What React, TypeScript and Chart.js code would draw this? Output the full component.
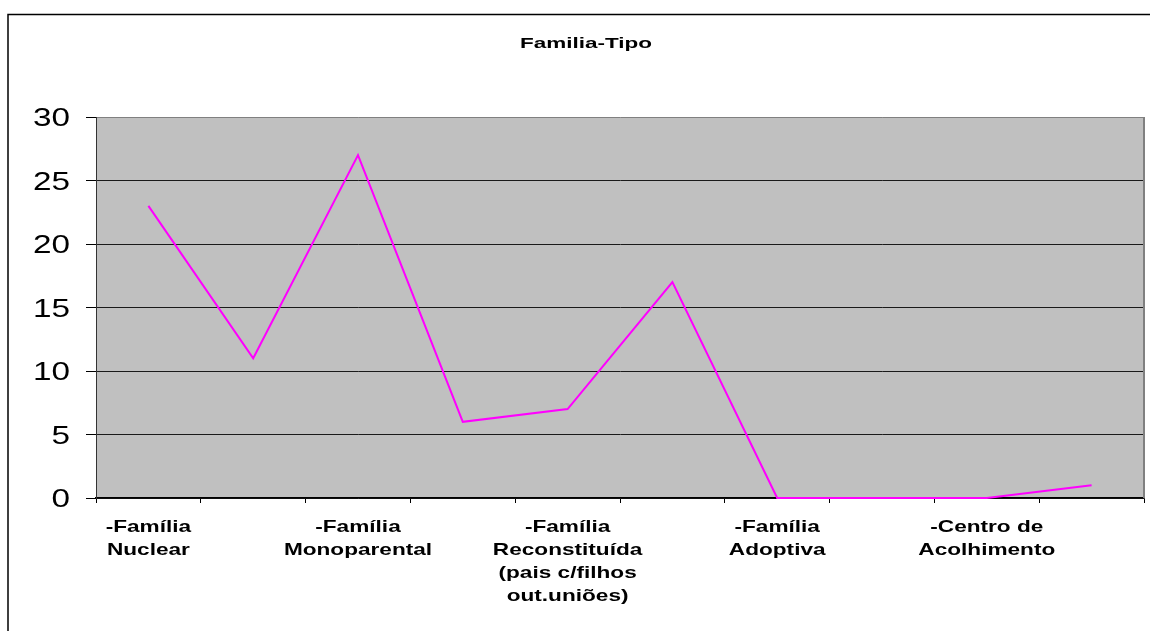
import { useEffect, useRef } from 'react';
import { Chart, registerables } from 'chart.js';

Chart.register(...registerables);

const chartTitle = 'Familia-Tipo';
const categoryLines: string[][] = [
  ['-Família', 'Nuclear'],
  [],
  ['-Família', 'Monoparental'],
  [],
  ['-Família', 'Reconstituída', '(pais c/filhos', 'out.uniões)'],
  [],
  ['-Família', 'Adoptiva'],
  [],
  ['-Centro de', 'Acolhimento'],
  [],
];
const categories = categoryLines.map((l) => l.join(' '));
const values = [23, 11, 27, 6, 7, 17, 0, 0, 0, 1];
const yMin = 0;
const yMax = 30;
const yStep = 5;

const FONT = '"Liberation Sans", Arial, sans-serif';
const TITLE_SIZE = 15;
const XTICK_SIZE = 17;
const YTICK_SIZE = 26;

// horizontal stretch of text, chosen by font size (reference text is widened)
const stretchFor = (font: string): [number, number] => {
  if (font.includes(TITLE_SIZE + 'px')) return [1.5, 0];
  if (font.includes(XTICK_SIZE + 'px')) return [1.33, 0];
  if (font.includes(YTICK_SIZE + 'px')) return [1.28, 2];
  return [1, 0];
};

const decorPlugin = {
  id: 'decor',
  beforeInit(chart: any) {
    const ctx = chart.ctx;
    const orig = ctx.fillText.bind(ctx);
    ctx.fillText = (text: string, x: number, y: number, mw?: number) => {
      const [sx, dy] = stretchFor(ctx.font);
      ctx.save();
      ctx.translate(x, y + dy);
      ctx.scale(sx, 1);
      if (mw === undefined) orig(text, 0, 0);
      else orig(text, 0, 0, mw / sx);
      ctx.restore();
    };
  },
  beforeDraw(chart: any) {
    const { ctx, chartArea } = chart;
    ctx.save();
    ctx.fillStyle = '#C0C0C0';
    ctx.fillRect(chartArea.left, chartArea.top, chartArea.right - chartArea.left, chartArea.bottom - chartArea.top);
    ctx.strokeStyle = '#000';
    ctx.lineWidth = 1.5;
    ctx.beginPath();
    ctx.moveTo(8, 640);
    ctx.lineTo(8, 14.5);
    ctx.lineTo(1160, 14.5);
    ctx.stroke();
    ctx.fillStyle = '#000';
    ctx.font = 'bold ' + TITLE_SIZE + 'px ' + FONT;
    ctx.textAlign = 'center';
    ctx.textBaseline = 'alphabetic';
    ctx.fillText(chartTitle, 586, 48);
    ctx.restore();
  },
  afterDatasetsDraw(chart: any) {
    const { ctx, chartArea } = chart;
    ctx.save();
    ctx.strokeStyle = '#808080';
    ctx.lineWidth = 2;
    ctx.beginPath();
    ctx.moveTo(chartArea.right, chartArea.top);
    ctx.lineTo(chartArea.right, chartArea.bottom);
    ctx.stroke();
    ctx.restore();
  },
};

export default function App() {
  const ref = useRef<HTMLCanvasElement | null>(null);
  useEffect(() => {
    if (!ref.current) return;
    const chart = new Chart(ref.current, {
      type: 'line',
      data: {
        labels: categories,
        datasets: [
          {
            data: values,
            borderColor: '#FF00FF',
            backgroundColor: '#FF00FF',
            borderWidth: 2,
            pointRadius: 0,
            tension: 0,
            fill: false,
            clip: false,
          },
        ],
      },
      options: {
        animation: false,
        responsive: false,
        devicePixelRatio: 1,
        layout: { padding: { left: 0, right: 6, top: 117, bottom: 0 } },
        plugins: {
          legend: { display: false },
          title: { display: false },
          tooltip: { enabled: false },
        },
        scales: {
          x: {
            type: 'category',
            offset: true,
            grid: {
              display: true,
              offset: true,
              drawOnChartArea: false,
              drawTicks: true,
              tickLength: 5,
              color: '#000',
              tickColor: '#000',
            },
            border: { display: true, color: '#000', width: 1.5 },
            ticks: {
              autoSkip: false,
              maxRotation: 0,
              minRotation: 0,
              padding: 13,
              color: '#000',
              font: { family: FONT, size: XTICK_SIZE, weight: 'bold', lineHeight: '23px' },
              callback: (_v: any, i: number) => (categoryLines[i].length ? categoryLines[i] : ''),
            },
            afterFit: (scale: any) => {
              scale.height = 133;
            },
          },
          y: {
            min: yMin,
            max: yMax,
            grid: {
              color: (c: any) => (c.tick && c.tick.value === yMax ? '#808080' : '#1a1a1a'),
              tickColor: '#000',
              tickLength: 10,
              lineWidth: 1,
            },
            border: { display: true, color: '#333', width: 1 },
            ticks: {
              stepSize: yStep,
              padding: 16,
              color: '#000',
              font: { family: FONT, size: YTICK_SIZE, weight: 'normal' },
            },
            afterFit: (scale: any) => {
              scale.width = 96;
            },
          },
        },
      },
      plugins: [decorPlugin],
    } as any);
    return () => chart.destroy();
  }, []);
  return (
    <canvas
      ref={ref}
      width={1150}
      height={631}
      style={{ position: 'fixed', left: 0, top: 0, display: 'block', width: 1150, height: 631 }}
    />
  );
}
